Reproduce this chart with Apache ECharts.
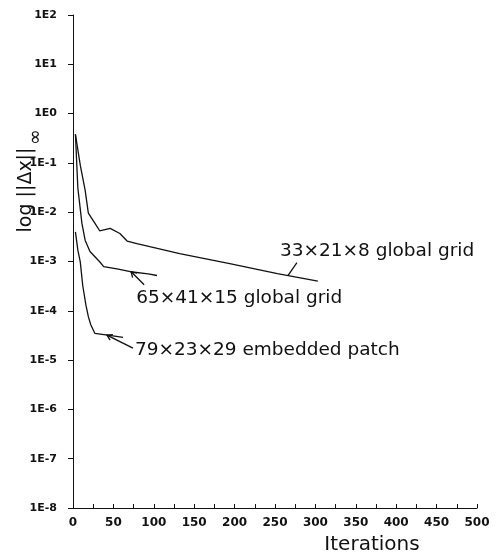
<!DOCTYPE html>
<html>
<head>
<meta charset="utf-8">
<script src="https://cdn.jsdelivr.net/npm/echarts@6/dist/echarts.min.js"></script>
<style>
  html, body { margin: 0; padding: 0; background: #ffffff; }
  #chart { width: 498px; height: 559px; }
</style>
</head>
<body>
<div id="chart"></div>
<script>
// Convergence history: max-norm of the update per iteration for three grid setups
const coarseIters = [3, 9, 15, 19, 27, 33, 46, 58, 67, 79, 95, 132, 194, 253, 303];
const coarseResid = [0.38, 0.09, 0.028, 0.0096, 0.006, 0.0042, 0.0047, 0.0037, 0.0026, 0.0023, 0.002, 0.00145, 0.00091, 0.00057, 0.0004];

const fineIters = [3, 6, 11, 15, 21, 33, 38, 56, 71, 93, 104];
const fineResid = [0.38, 0.031, 0.006, 0.0027, 0.0016, 0.00099, 0.00079, 0.0007, 0.00062, 0.00056, 0.00052];

const patchIters = [3, 6, 9, 12, 16, 19, 22, 27, 43, 62];
const patchResid = [0.004, 0.0017, 0.00098, 0.00033, 0.00013, 0.000076, 0.000052, 0.000035, 0.000032, 0.000029];

const seriesNames = ['33×21×8 global grid', '65×41×15 global grid', '79×23×29 embedded patch'];

const xTickLabels = ['0', '50', '100', '150', '200', '250', '300', '350', '400', '450', '500'];
const yTickLabels = ['1E-8', '1E-7', '1E-6', '1E-5', '1E-4', '1E-3', '1E-2', '1E-1', '1E0', '1E1', '1E2'];

const xAxisTitle = 'Iterations';
const yAxisTitle = 'log ||Δx||';
const yAxisTitleSub = '∞';

const INK = '#111111';
const SANS = '"DejaVu Sans", sans-serif';

function pairs(xs, ys) { return xs.map((x, i) => [x, ys[i]]); }

const runs = [
  pairs(coarseIters, coarseResid),
  pairs(fineIters, fineResid),
  pairs(patchIters, patchResid)
];

const chart = echarts.init(document.getElementById('chart'), null, { renderer: 'canvas' });

chart.setOption({
  animation: false,
  backgroundColor: '#ffffff',
  grid: { left: 73, right: 21, top: 15, bottom: 51, containLabel: false, outerBoundsMode: 'none' },
  xAxis: {
    type: 'value',
    min: 0, max: 500, interval: 50,
    axisLine: { show: true, onZero: false, lineStyle: { color: INK, width: 1 } },
    axisTick: { show: true, inside: true, length: 4, lineStyle: { color: INK, width: 1 } },
    minorTick: { show: true, splitNumber: 2, length: 4, lineStyle: { color: INK, width: 1 } },
    splitLine: { show: false },
    axisLabel: {
      margin: 9, color: INK, fontFamily: SANS, fontSize: 12, fontWeight: 'bold',
      formatter: v => xTickLabels[Math.round(v / 50)]
    }
  },
  yAxis: {
    type: 'log', logBase: 10,
    min: 1e-8, max: 1e2, interval: 1,
    axisLine: { show: true, lineStyle: { color: INK, width: 1 } },
    axisTick: { show: true, inside: false, length: 5, lineStyle: { color: INK, width: 1 } },
    minorTick: { show: false },
    splitLine: { show: false },
    axisLabel: {
      margin: 16, color: INK, fontFamily: SANS, fontSize: 11, fontWeight: 'bold',
      formatter: v => yTickLabels[Math.round(Math.log10(v)) + 8]
    }
  },
  series: runs.map((d, i) => ({
    name: seriesNames[i],
    type: 'line',
    data: d,
    showSymbol: false,
    symbol: 'none',
    smooth: false,
    lineStyle: { color: INK, width: 1.3 },
    z: 3
  }))
});

// Leader lines and captions; each pointer tip sits on its curve at the given iteration
const callouts = [
  { run: 0, at: 266, tail: [9, -13], arrow: false, text: [-17, -11] },
  { run: 1, at: 72,  tail: [13, 13], arrow: true,  text: [-8, 13] },
  { run: 2, at: 42,  tail: [26, 13], arrow: true,  text: [2, 2] }
];

function valueAt(d, it) {
  for (let i = 1; i < d.length; i++) {
    if (it <= d[i][0]) {
      const t = (it - d[i - 1][0]) / (d[i][0] - d[i - 1][0]);
      const l = Math.log10(d[i - 1][1]) + t * (Math.log10(d[i][1]) - Math.log10(d[i - 1][1]));
      return Math.pow(10, l);
    }
  }
  return d[d.length - 1][1];
}

const graphics = [];
callouts.forEach(c => {
  const tip = chart.convertToPixel({ gridIndex: 0 }, [c.at, valueAt(runs[c.run], c.at)]);
  const tail = [tip[0] + c.tail[0], tip[1] + c.tail[1]];
  graphics.push({
    type: 'line', silent: true,
    shape: { x1: tip[0], y1: tip[1], x2: tail[0], y2: tail[1] },
    style: { stroke: INK, lineWidth: 1.3 }
  });
  if (c.arrow) {
    const ang = Math.atan2(c.tail[1], c.tail[0]);
    const L = 6, spread = 0.55;
    graphics.push({
      type: 'polyline', silent: true,
      shape: { points: [
        [tip[0] + L * Math.cos(ang - spread), tip[1] + L * Math.sin(ang - spread)],
        [tip[0], tip[1]],
        [tip[0] + L * Math.cos(ang + spread), tip[1] + L * Math.sin(ang + spread)]
      ] },
      style: { stroke: INK, lineWidth: 1.3, fill: null }
    });
  }
  graphics.push({
    type: 'text', silent: true,
    x: tail[0] + c.text[0], y: tail[1] + c.text[1],
    style: {
      text: seriesNames[c.run], fill: INK,
      fontFamily: SANS, fontSize: 18.5,
      align: 'left', verticalAlign: 'middle'
    }
  });
});

// Axis titles
graphics.push({
  type: 'text', silent: true, x: 372, y: 545,
  style: { text: xAxisTitle, fill: INK, fontFamily: SANS, fontSize: 20, align: 'center', verticalAlign: 'middle' }
});
graphics.push({
  type: 'text', silent: true, x: 26, y: 190, rotation: Math.PI / 2,
  style: { text: yAxisTitle, fill: INK, fontFamily: SANS, fontSize: 19, align: 'center', verticalAlign: 'middle' }
});
graphics.push({
  type: 'text', silent: true, x: 36, y: 137, rotation: Math.PI / 2,
  style: { text: yAxisTitleSub, fill: INK, fontFamily: SANS, fontSize: 19, align: 'center', verticalAlign: 'middle' }
});

chart.setOption({ graphic: graphics });
</script>
</body>
</html>
